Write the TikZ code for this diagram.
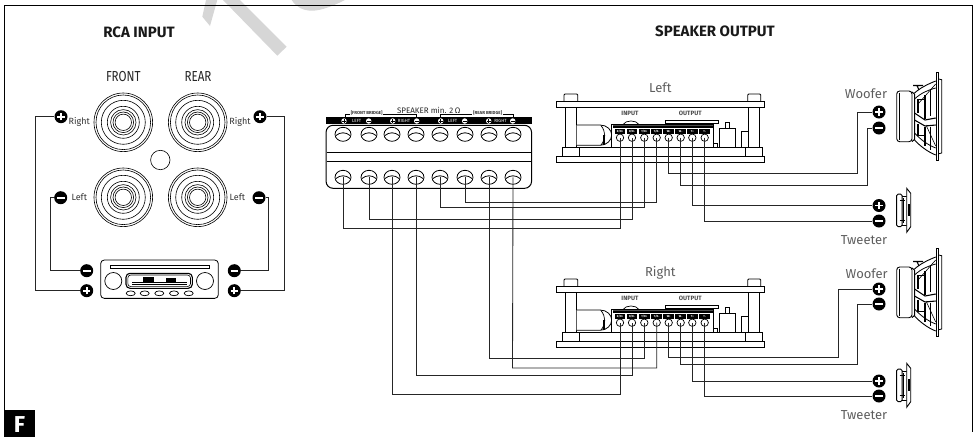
\documentclass[tikz,border=0pt]{standalone}
\usepackage{fontspec}
\setmainfont{Fira Sans}
\usetikzlibrary{calc,shapes.geometric}
\newcommand\fsz[1]{\fontsize{#1}{#1}\selectfont}
\definecolor{wm}{HTML}{D6D6D6}
\definecolor{lab}{HTML}{5E5E5E}
\tikzset{
  x=1pt,y=-1pt,
  wire/.style={line width=0.85pt,draw=black!85},
  pol/.style={circle,fill=black,minimum size=13pt,inner sep=0pt},
  polplus/.style={pol,path picture={\draw[white,line width=1.9pt] ([xshift=-3.6pt]path picture bounding box.center) -- ([xshift=3.6pt]path picture bounding box.center);
     \draw[white,line width=1.9pt] ([yshift=-3.6pt]path picture bounding box.center) -- ([yshift=3.6pt]path picture bounding box.center);}},
  polminus/.style={pol,path picture={\draw[white,line width=1.9pt] ([xshift=-3.8pt]path picture bounding box.center) -- ([xshift=3.8pt]path picture bounding box.center);}},
  tinypol/.style={circle,fill=white,minimum size=5.4pt,inner sep=0pt},
  tplus/.style={tinypol,path picture={\draw[black,line width=0.7pt] ([xshift=-1.8pt]path picture bounding box.center) -- ([xshift=1.8pt]path picture bounding box.center);
     \draw[black,line width=0.7pt] ([yshift=-1.8pt]path picture bounding box.center) -- ([yshift=1.8pt]path picture bounding box.center);}},
  tminus/.style={tinypol,path picture={\draw[black,line width=0.8pt] ([xshift=-1.8pt]path picture bounding box.center) -- ([xshift=1.8pt]path picture bounding box.center);}},
  screw/.style={ellipse,draw,line width=0.8pt,minimum width=16pt,minimum height=14pt,inner sep=0pt,
     path picture={\draw[line width=0.8pt,shift={(path picture bounding box.center)}] (-7,1.2) .. controls (-3,-2.4) and (3,-2.4) .. (7,1.2);}},
  amptm/.style={circle,draw,fill=white,line width=0.7pt,minimum size=7.4pt,inner sep=0pt},
  plate/.style={draw,fill=white,line width=0.8pt},
  jackring/.style={draw,line width=0.6pt},
  title/.style={font=\fsz{15}\bfseries,text=black!90,inner sep=0pt},
  head/.style={font=\fsz{14.5},text=black!85,inner sep=0pt},
  small/.style={font=\fsz{9},text=black!80,inner sep=0pt},
  grey/.style={font=\fsz{13},text=lab,inner sep=0pt},
}
% amplifier crossover drawn at vertical offset #2 with name prefix #1, label #3
\newcommand\crossover[3]{%
\begin{scope}[shift={(0,#2)}]
  \node[grey] (#1title) at (660.3,88) {#3};
  % pillars
  \draw[plate] (564,101.7) -- (564,95) -- (565,94) -- (576.7,94) -- (577.7,95) -- (577.7,101.7);
  \draw[plate] (747.7,101.7) -- (747.7,95) -- (748.7,94) -- (759.7,94) -- (760.7,95) -- (760.7,101.7);
  \draw[plate] (565.7,107) rectangle (576.7,147.5);
  \draw[plate] (748,107) rectangle (759,147.5);
  \draw[plate] (556.7,101.7) rectangle (764,107.3);
  \draw[plate] (556.7,156) rectangle (764,162);
  \draw[plate] (562,147.7) rectangle (579.3,156);
  \draw[plate] (745.7,147.7) rectangle (762.3,156);
  \draw[line width=0.8pt] (579.3,147.5) -- (745.7,147.5);
  % capacitor
  \draw[plate] (576.7,125) -- (600,125) .. controls (607,125) and (611.7,130) .. (611.7,135) .. controls (611.7,140) and (607,145.3) .. (600,145.3) -- (576.7,145.3);
  \draw[line width=0.7pt] (601,125.5) .. controls (606,132) and (606,139) .. (601,145);
  \draw[line width=1.1pt] (604,135) -- (604,144.5);
  % parts on the right
  \draw[plate] (719.3,128.3) rectangle (735,147.5);
  \draw[plate] (725,128.3) -- (725,122.3) -- (729.3,122.3) -- (729.3,128.3);
  \draw[plate] (741,131) rectangle (748,147.5);
  \draw[plate] (713.3,143.5) rectangle (717.5,147.5);
  % bump and output plate
  \draw[line width=0.7pt,fill=white] (623,124.5) .. controls (626,119.8) and (636,119.8) .. (639,124.5);
  \draw[plate,line width=0.7pt] (665,120.7) rectangle (718.3,123.3);
  % terminal block
  \draw[plate,line width=0.7pt] (611.7,124.3) rectangle (713.3,147.5);
  \fill (612.5,125) rectangle (712.5,128.4);
  \fill[black!70] (612.5,124.5) rectangle (712.5,126);
  \node[font=\fsz{6.2}\bfseries,text=black!70,inner sep=0pt] (#1in) at (630,113) {INPUT};
  \node[font=\fsz{6.2}\bfseries,text=black!70,inner sep=0pt] (#1out) at (690.3,113) {OUTPUT};
  \foreach \xx/\lbl [count=\i] in {620/{R/R+},632/{R/R-},644.3/{T/R+},656.7/{T/R-},668.7/W+,680.7/W-,692.3/T+,704.7/T-}{
    \fill ($(\xx,131.3)+(-5.4,-2.5)$) rectangle ($(\xx,131.3)+(5.4,2.5)$);
    \node[font=\fsz{2.8}\bfseries,text=white,inner sep=0pt] at (\xx,131.3) {\lbl};
    \node[amptm] (#1t\i) at (\xx,137.7) {};
  }
\end{scope}}
\newcommand\woofer[1]{%
\begin{scope}[shift={(0,#1)}]
  \draw[line width=0.9pt,fill=white,rounded corners=3pt] (896.7,91) rectangle (912,141.7);
  \draw[line width=0.6pt] (899,93) -- (899,140);
  \draw[line width=1pt] (912,92) -- (914.5,94) -- (914.5,139.5) -- (912,141.5);
  \draw[line width=0.9pt] (914.5,93) .. controls (920,88) and (928,84) .. (935.7,81);
  \draw[line width=0.8pt] (914.5,99) .. controls (921,93) and (928,90) .. (935.7,88);
  \draw[line width=0.6pt] (918,104) -- (935.7,84);
  \draw[line width=0.9pt] (914.5,140) .. controls (920,146) and (928,152) .. (935.7,155);
  \draw[line width=0.8pt] (914.5,133) .. controls (921,140) and (928,145) .. (935.7,148);
  \draw[line width=0.6pt] (926,125) -- (935.7,146);
  \draw[line width=1.1pt] (914.5,113) -- (925,120) -- (935.7,118);
  \draw[line width=1.1pt] (914.5,120) -- (925,126) -- (935.7,125);
  \draw[line width=1.2pt] (918,99) -- (918,113) (918,124) -- (918,136);
  \draw[line width=1.2pt] (925,95) -- (925,119) (925,127) -- (925,146);
  \draw[line width=0.8pt] (918,99) -- (925,99) (918,135) -- (925,135);
  \draw[line width=0.7pt] (930,90) -- (930,116) (930,127) -- (930,150);
  \draw[line width=1.1pt] (913,85.5) -- (923,85.5) (917,85.5) -- (919,90);
  \draw[line width=0.8pt,fill=white] (936,72.7) -- (938.8,72.7) -- (938.8,160.7) -- (936,160.7) -- cycle;
  \draw[line width=0.8pt] (938.8,79) -- (941.7,79.7) -- (941.7,153) -- (938.8,153.7);
\end{scope}}
\newcommand\tweeter[1]{%
\begin{scope}[shift={(0,#1)}]
  \draw[line width=1pt,fill=white,rounded corners=1.5pt] (896.7,194) rectangle (902,226.7);
  \draw[line width=0.9pt] (902,196) -- (906.7,196) (902,225) -- (906.7,225);
  \draw[line width=1.2pt] (903.5,198) -- (903.5,223);
  \draw[line width=0.9pt,fill=white] (906.7,188.3) -- (910.7,193.3) -- (910.7,226.7) -- (906.7,232.3) -- cycle;
  \fill (907.5,204) rectangle (910,216);
  \draw[line width=0.8pt] (899.5,200) -- (905,200) (899.5,220) -- (905,220);
\end{scope}}
\begin{document}
\begin{tikzpicture}
\useasboundingbox (0,0) rectangle (978,437);
% watermark
\fill[wm] (206,0) -- (217.3,0) -- (210,26) -- (202.3,16.7) -- cycle;
\fill[wm] (223,0) -- (240,0) -- (286.7,46.7) -- (277.3,55.7) -- cycle;
\fill[wm] (291.7,0) .. controls (296,7) and (303,10.7) .. (312,10.7) .. controls (322,10.7) and (335,5) .. (345,0) -- cycle;
% frame
\draw[line width=0.9pt] (4.7,411) -- (4.7,5) -- (972,5) -- (972,432);
\fill (4.3,410) rectangle (35,437);
\node[font=\fsz{23}\bfseries,text=white,inner sep=0pt] (flabel) at (19.5,424.8) {F};
% headings
\node[title] (rca) at (139,32.3) {RCA INPUT};
\node[title] (spk) at (715,31.5) {SPEAKER OUTPUT};
\node[head] (front) at (123.3,76.7) {\scalebox{.8}[1]{FRONT}};
\node[head] (rear) at (198,76.7) {\scalebox{.8}[1]{REAR}};
% RCA jacks
\foreach \cx/\cy in {123.3/122.3,197.7/122.3,123.3/197.3,197.7/197.3}{
  \foreach \r in {29.3,27.3,22,16,12.7,10.3,8.2}{
    \draw[jackring] (\cx,\cy) circle[radius=\r];
  }
}
\draw[line width=0.6pt] (160.3,160) circle[radius=9.7];
\node[small] at (79.3,121.7) {Right};
\node[small] at (240,121.7) {Right};
\node[small] at (79.3,197.3) {Left};
\node[small] at (237.3,197.3) {Left};
% head unit
\node[draw,line width=0.8pt,rounded corners=3.5pt,minimum width=117.6pt,minimum height=38.3pt,inner sep=0pt] (unit) at (159.5,279.2) {};
\draw[line width=0.6pt] (110,265.7) rectangle (209,268.7);
\draw[line width=0.7pt] (113.3,281) circle[radius=8.5] (205,281) circle[radius=8.5];
\draw[line width=1.1pt,rounded corners=4pt] (126,273.3) rectangle (192.3,288.3);
\draw[line width=0.6pt,rounded corners=3pt] (127.8,275) rectangle (190.5,286.6);
\fill (132.3,282) rectangle (186.7,283);
\fill (132.3,284) rectangle (186.7,285);
\fill (143.3,276.5) rectangle (154,282);
\fill (165.7,278.2) rectangle (175.7,282);
\foreach \bx in {130.7,144.7,159.3,174,188.7}{
  \draw[line width=0.7pt] (\bx,293.3) ellipse[x radius=4.5,y radius=2.4];
}
% RCA polarity nodes
\node[polplus] (fr) at (61,116.7) {};
\node[polplus] (rr) at (260,116.7) {};
\node[polminus] (fl) at (60.7,197.7) {};
\node[polminus] (rl) at (259,197.7) {};
\node[polminus] (ulm) at (86.7,270.7) {};
\node[polplus] (ulp) at (86.7,290.7) {};
\node[polminus] (urm) at (234.3,270.7) {};
\node[polplus] (urp) at (234.3,290.7) {};
\draw[wire] (fr) -- (35,116.7) |- (ulp);
\draw[wire] (fl) -- (50.7,197.7) |- (ulm);
\draw[wire] (rr) -- (284.3,116.7) |- (urp);
\draw[wire] (rl) -- (268.3,197.7) |- (urm);
% bridge block
\fill (326,116.7) rectangle (531.7,124.3);
\node[draw,line width=1pt,rounded corners=7pt,minimum width=205.5pt,minimum height=63pt,inner sep=0pt] (bridge) at (428.8,156.8) {};
\draw[line width=0.7pt] (326.5,152.3) -- (531.2,152.3) (326.5,161) -- (531.2,161);
\foreach \xx [count=\i] in {343,369,392,416,440,465,489,513}{
  \node[screw] (s\i) at (\xx,134.3) {};
  \node[screw] (b\i) at (\xx,177.3) {};
}
\foreach \xx/\st in {344/tplus,368.7/tminus,392.7/tplus,416.7/tminus,440.7/tplus,464.7/tminus,488.7/tplus,512.7/tminus}{
  \node[\st] at (\xx,121) {};
}
\foreach \xx/\lbl in {356.7/LEFT,404/RIGHT,452.7/LEFT,500.5/RIGHT}{
  \node[font=\fsz{4.5},text=white,inner sep=0pt] at (\xx,121) {\lbl};
}
\draw[line width=0.6pt] (345,116.7) -- (345,114.7) -- (350,114.7) (383,114.7) -- (416.7,114.7) -- (416.7,116.7);
\draw[line width=0.6pt] (440,116.7) -- (440,114.7) -- (472,114.7) (503,114.7) -- (513,114.7) -- (513,116.7);
\node[font=\fsz{4.4}\bfseries,text=black!80,inner sep=0pt] (fb) at (366.7,112.8) {[FRONT BRIDGE]};
\node[font=\fsz{4.4}\bfseries,text=black!80,inner sep=0pt] (rb) at (487.7,112.8) {[REAR BRIDGE]};
\node[font=\fsz{8},text=black!85,inner sep=0pt] (spkmin) at (428.7,110.5) {SPEAKER min. 2$\,$Ω};
% crossovers
\crossover{L}{0}{Left}
\crossover{R}{185}{Right}
\node[grey] (wl) at (866,94) {Woofer};
\node[grey] (wr) at (866.7,273.5) {Woofer};
\node[grey] (tl) at (864,240.3) {Tweeter};
\node[grey] (tr) at (864,415) {Tweeter};
\woofer{0}
\woofer{176}
\tweeter{0}
\tweeter{175}
% speaker polarity
\node[polplus] (wlp) at (879,112) {};
\node[polminus] (wlm) at (879,128) {};
\node[polplus] (tlp) at (879,205.5) {};
\node[polminus] (tlm) at (879,221) {};
\node[polplus] (wrp) at (879,289) {};
\node[polminus] (wrm) at (879,304) {};
\node[polplus] (trp) at (879,381) {};
\node[polminus] (trm) at (879,396) {};
% bridge to left crossover
\draw[wire] (b1.center) -- (343,228) -| (Lt1.center);
\draw[wire] (b2.center) -- (369,219) -| (Lt2.center);
\draw[wire] (b5.center) -- (440,207.7) -| (Lt3.center);
\draw[wire] (b6.center) -- (465,202.7) -| (Lt4.center);
% bridge to right crossover
\draw[wire] (b3.center) -- (392,394) -| (Rt1.center);
\draw[wire] (b4.center) -- (416,375) -| (Rt2.center);
\draw[wire] (b7.center) -- (489,358) -| (Rt3.center);
\draw[wire] (b8.center) -- (512.5,368) -| (Rt4.center);
% crossover to speakers
\draw[wire] (Lt5.center) |- (857,173) |- (wlp);
\draw[wire] (Lt6.center) |- (867,185) |- (wlm);
\draw[wire] (Lt7.center) |- (tlp);
\draw[wire] (Lt8.center) |- (tlm);
\draw[wire] (Rt5.center) |- (838,357) |- (wrp);
\draw[wire] (Rt6.center) |- (857,364) |- (wrm);
\draw[wire] (Rt7.center) |- (trp);
\draw[wire] (Rt8.center) |- (trm);
\end{tikzpicture}
\end{document}
